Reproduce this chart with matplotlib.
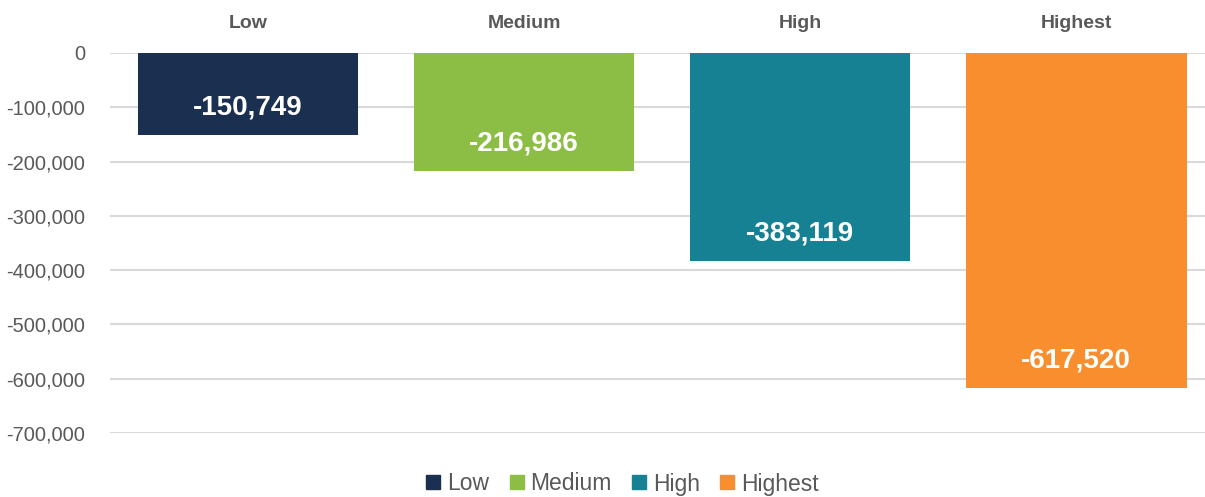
import matplotlib.pyplot as plt
from matplotlib.lines import Line2D
from matplotlib.ticker import FuncFormatter

# Données du graphique
categories = ['Low', 'Medium', 'High', 'Highest']
valeurs = [-150749, -216986, -383119, -617520]
couleurs = ['#1b3050', '#8cbd44', '#168193', '#f88e2e']
yticks = [0, -100000, -200000, -300000, -400000, -500000, -600000, -700000]

gris = '#595959'
plt.rcParams['font.family'] = ['Liberation Sans', 'DejaVu Sans']

fig = plt.figure(figsize=(12.05, 4.97), dpi=100)
ax = fig.add_axes([110 / 1205, 64 / 497, 1095 / 1205, 380 / 497])

x = range(len(categories))
bars = ax.bar(x, valeurs, width=0.8, color=couleurs, zorder=3)

# Étiquettes de valeurs à l'intérieur, près du bout des barres
for rect, v in zip(bars, valeurs):
    ax.annotate(f'{v:,}', (rect.get_x() + rect.get_width() / 2, v),
                xytext=(0, 20), textcoords='offset points',
                ha='center', va='center', color='white',
                fontsize=20, fontweight='bold', zorder=4)

ax.set_xlim(-0.5, 3.467)
ax.set_ylim(-700000, 0)
ax.set_yticks(yticks)
ax.yaxis.set_major_formatter(FuncFormatter(lambda v, p: f'{int(v):,}'))
ax.tick_params(axis='y', length=0, pad=18, labelsize=14.5, labelcolor=gris)

ax.xaxis.tick_top()
ax.set_xticks(list(x))
ax.set_xticklabels(categories, fontweight='bold')
ax.tick_params(axis='x', length=0, pad=15, labelsize=14, labelcolor=gris)

ax.grid(axis='y', color='#d9d9d9', linewidth=1.5, zorder=0)
for s in ax.spines.values():
    s.set_visible(False)

handles = [Line2D([], [], marker='s', linestyle='', markersize=9.5, color=c)
           for c in couleurs]
fig.legend(handles, categories, loc='center', bbox_to_anchor=(622 / 1205, 1 - 484 / 497),
           ncol=4, frameon=False, fontsize=16.5, labelcolor=gris,
           handlelength=0.7, handletextpad=0.25, columnspacing=0.85,
           borderaxespad=0)

fig.savefig('out.png', dpi=100)
